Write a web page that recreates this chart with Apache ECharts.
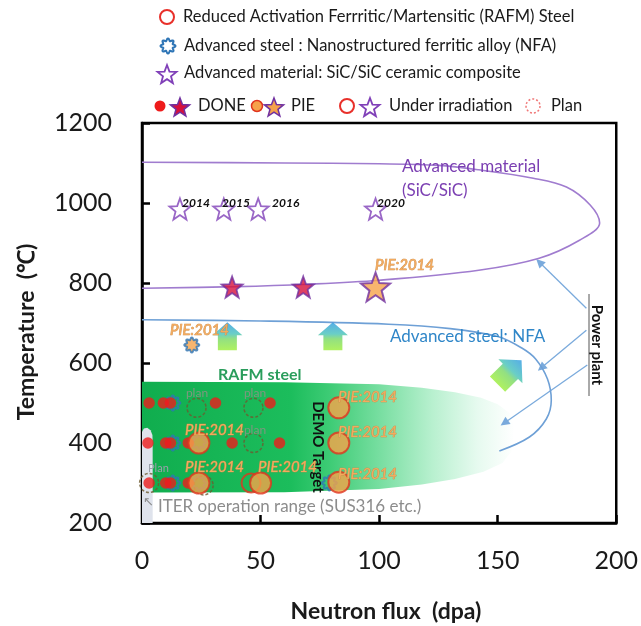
<!DOCTYPE html>
<html>
<head>
<meta charset="utf-8">
<script src="https://cdn.jsdelivr.net/npm/echarts@6/dist/echarts.min.js"></script>
<style>
  html, body { margin: 0; padding: 0; background: #ffffff; }
  #chart { width: 641px; height: 626px; }
</style>
</head>
<body>
<div id="chart"></div>
<script>
// ---- axes ----
const xRange = [0, 200];
const yRange = [200, 1200];

// ---- RAFM steel (dpa, °C) ----
const rafmDone = [[3, 500], [9, 500], [12, 500], [31, 500], [54, 500],
                  [2.5, 400], [10, 400], [12, 400], [19.5, 400], [38, 400], [58, 400],
                  [3, 300], [10, 300], [12, 300], [19.5, 300]];
const rafmPIE = [[24, 400], [24, 300], [50, 300], [83, 488], [83, 400], [83, 302]];
const rafmUnder = [[46, 300]];
const rafmPlan = [[23, 488], [47, 488], [47, 400], [3, 300], [26, 294]];

// ---- Advanced steel: NFA ----
const nfaUnder = [[13, 500], [13, 400], [13, 300], [24, 402], [24, 300], [79, 300]];
const nfaPIE = [[21, 645]];

// ---- Advanced material: SiC/SiC ----
const sicUnder = [[16, 985], [34.5, 985], [49, 985], [98.5, 985]];
const sicYears = ['2014', '2015', '2016', '2020'];
const sicDone = [[38, 790], [68, 790]];
const sicPIE = [[98.5, 790]];

// ---- operating windows ----
const sicWindow = [[0, 1102], [60, 1100], [100, 1098], [125, 1094], [142, 1083], [165, 1062], [179, 1040],
                   [189, 995], [193, 950], [184.5, 907], [167.5, 862], [142, 832], [100, 807],
                   [70, 797], [40, 791], [0, 787]];
const nfaWindow = [[0, 708], [50, 705], [104, 697], [130, 686], [150, 666], [160, 638], [166, 610],
                   [171, 560], [172.6, 507], [170.5, 460], [163.4, 415], [150.7, 380]];
const rafmWindow = [[0, 553], [60, 552], [100, 547], [118, 538], [132, 527], [143, 513], [150, 497],
                    [155, 475], [157, 440], [156, 380], [152, 350], [144, 328], [132, 310],
                    [118, 296], [100, 285], [60, 277], [0, 276]];
const iterWindow = [[0, 200], [0, 428], [0.8, 436], [2.2, 438], [3.6, 432], [4.4, 420], [4.5, 400], [4.5, 200]];

// ---- development direction arrows ----
const upArrows = [[36, 667], [80.5, 667]];
const diagArrow = [[155, 577]];
const powerPlantLinks = [
  [[187.4, 737], [167.6, 852]],
  [[187.4, 682], [168.4, 588]],
  [[187.8, 595], [152.8, 450]]
];

// ---- symbol shapes (unit box 0..100) ----
function starPoints() {
  const pts = [];
  for (let i = 0; i < 10; i++) {
    const r = i % 2 === 0 ? 50 : 21;
    const a = -Math.PI / 2 + i * Math.PI / 5;
    pts.push([50 + r * Math.cos(a), 50 + r * Math.sin(a)]);
  }
  return pts;
}
function flowerPoints() {
  const pts = [];
  const n = 96;
  for (let i = 0; i < n; i++) {
    const t = i / n * Math.PI * 2;
    const r = 42 + 8 * Math.cos(8 * t);
    pts.push([50 + r * Math.cos(t), 50 + r * Math.sin(t)]);
  }
  return pts;
}
function toPath(pts) {
  return 'path://M' + pts.map(p => p[0].toFixed(2) + ',' + p[1].toFixed(2)).join('L') + 'Z';
}
const STAR_PTS = starPoints();
const FLOWER_PTS = flowerPoints();
const STAR = toPath(STAR_PTS);
const FLOWER = toPath(FLOWER_PTS);
const BLOCK_ARROW = 'path://M15,0 L30,13 L24.5,13 L24.5,28 L5.5,28 L5.5,13 L0,13 Z';

const RED = '#ee1b1b';
const ORANGE = '#f6a24a';
const PURPLE = '#7030a0';
const BLUE = '#2e75b6';
const FONT = 'Lato, "Liberation Sans", sans-serif';

const arrowGradient = new echarts.graphic.LinearGradient(0, 0, 0, 1, [
  { offset: 0, color: '#2b98e2' },
  { offset: 0.42, color: '#45c2b8' },
  { offset: 0.6, color: '#78d862' },
  { offset: 1, color: '#9bee38' }
]);

function polygonSeries(points, fill, z) {
  return {
    type: 'custom',
    silent: true,
    clip: true,
    z: z,
    data: [[0, 200]],
    encode: { x: 0, y: 1 },
    renderItem: function (params, api) {
      return {
        type: 'polygon',
        shape: { points: points.map(p => api.coord(p)) },
        style: { fill: fill }
      };
    }
  };
}

const chart = echarts.init(document.getElementById('chart'), null, { renderer: 'canvas' });

const option = {
  animation: false,
  backgroundColor: '#ffffff',
  grid: { left: 142, right: 24, top: 123, bottom: 103, show: true, borderColor: '#000', borderWidth: 2.5 },
  xAxis: {
    type: 'value', min: xRange[0], max: xRange[1], interval: 50,
    axisLine: { lineStyle: { color: '#000', width: 2.5 } },
    axisTick: { inside: true, length: 8, lineStyle: { color: '#000', width: 2.5 } },
    axisLabel: { color: '#1a1a1a', fontSize: 25, fontFamily: FONT, margin: 25, formatter: v => String(v) },
    splitLine: { show: false }
  },
  yAxis: {
    type: 'value', min: yRange[0], max: yRange[1], interval: 200,
    axisLine: { lineStyle: { color: '#000', width: 2.5 } },
    axisTick: { inside: true, length: 8, lineStyle: { color: '#000', width: 2.5 } },
    axisLabel: { color: '#1a1a1a', fontSize: 25, fontFamily: FONT, margin: 30, formatter: v => String(v) },
    splitLine: { show: false }
  },
  series: [
    polygonSeries(rafmWindow, new echarts.graphic.LinearGradient(0, 0, 1, 0, [
      { offset: 0, color: '#10ad4e' },
      { offset: 0.4, color: '#1cbd5c' },
      { offset: 0.5, color: '#3ccb74' },
      { offset: 0.63, color: '#74dd9e' },
      { offset: 0.78, color: '#b8f0cf' },
      { offset: 0.9, color: '#e6faef' },
      { offset: 1, color: '#ffffff' }
    ]), 1),
    polygonSeries(iterWindow, '#dfe3ec', 2),
    {
      type: 'line', data: sicWindow, smooth: 0.35, symbol: 'none', z: 3, silent: true,
      lineStyle: { color: '#a07ccf', width: 1.6 }
    },
    {
      type: 'line', data: nfaWindow, smooth: 0.35, symbol: 'none', z: 3, silent: true,
      lineStyle: { color: '#6ea0d6', width: 1.6 }
    },
    {
      type: 'lines', coordinateSystem: 'cartesian2d', z: 3, silent: true,
      symbol: ['none', 'triangle'], symbolSize: [0, 9],
      lineStyle: { color: '#7aaadc', width: 1.3, opacity: 1 },
      data: powerPlantLinks.map(c => ({ coords: c }))
    },
    {
      type: 'scatter', data: upArrows, symbol: BLOCK_ARROW, symbolSize: [30, 28],
      symbolKeepAspect: false, z: 4, silent: true, itemStyle: { color: arrowGradient }
    },
    {
      type: 'scatter', data: diagArrow, symbol: BLOCK_ARROW, symbolSize: [34, 34],
      symbolRotate: -45, symbolKeepAspect: false, z: 4, silent: true, itemStyle: { color: arrowGradient }
    },
    {
      type: 'scatter', data: nfaUnder, symbol: FLOWER, symbolSize: 15, z: 5,
      itemStyle: { color: 'rgba(255,255,255,0)', borderColor: BLUE, borderWidth: 2 }
    },
    {
      type: 'scatter', data: rafmPlan, symbol: 'circle', symbolSize: 19, z: 5,
      itemStyle: { color: 'rgba(0,0,0,0)', borderColor: '#6e5a2e', borderWidth: 1.5, borderType: [3, 2] }
    },
    {
      type: 'scatter', data: rafmDone, symbol: 'circle', symbolSize: 11.5, z: 6,
      itemStyle: { color: RED }
    },
    {
      type: 'scatter', data: rafmUnder, symbol: 'circle', symbolSize: 19, z: 6,
      itemStyle: { color: 'rgba(0,0,0,0)', borderColor: '#e0341f', borderWidth: 2 }
    },
    {
      type: 'scatter', data: rafmPIE, symbol: 'circle', symbolSize: 21, z: 6,
      itemStyle: { color: ORANGE, borderColor: '#e0341f', borderWidth: 2 }
    },
    {
      type: 'scatter', data: nfaPIE, symbol: FLOWER, symbolSize: 15, z: 6,
      itemStyle: { color: ORANGE, borderColor: BLUE, borderWidth: 2 }
    },
    {
      type: 'scatter', data: sicUnder, symbol: STAR, symbolSize: 21, z: 6,
      itemStyle: { color: '#ffffff', borderColor: '#8040b8', borderWidth: 1.8 }
    },
    {
      type: 'scatter', data: sicDone, symbol: STAR, symbolSize: 21, z: 6,
      itemStyle: { color: '#d6103c', borderColor: PURPLE, borderWidth: 1.8 }
    },
    {
      type: 'scatter', data: sicPIE, symbol: STAR, symbolSize: 29, z: 6,
      itemStyle: { color: ORANGE, borderColor: PURPLE, borderWidth: 2 }
    }
  ]
};
chart.setOption(option);

// ---- annotations ----
function txt(text, x, y, font, fill, extra, rotation) {
  const el = {
    type: 'text', x: x, y: y, z: 50, silent: true,
    style: Object.assign({ text: text, font: font, fill: fill, align: 'left', verticalAlign: 'middle' }, extra || {})
  };
  if (rotation) el.rotation = rotation;
  return el;
}
function shape(pts, cx, cy, s, style) {
  const k = s / 100;
  return {
    type: 'polygon', z: 50, silent: true,
    shape: { points: pts.map(p => [cx + (p[0] - 50) * k, cy + (p[1] - 50) * k]) },
    style: style
  };
}
function ring(cx, cy, r, style) {
  return { type: 'circle', z: 50, silent: true, shape: { cx: cx, cy: cy, r: r }, style: style };
}

const LEG = '16.5px ' + FONT;
const pieStyle = { stroke: '#c98a46', lineWidth: 0.7 };
const PIE_FONT = 'italic 15px ' + FONT;
const PIE_FILL = '#f3aa5e';
const graphics = [
  // key
  ring(167, 17, 7, { fill: '#fff', stroke: '#e8302a', lineWidth: 2 }),
  txt('Reduced Activation Ferrritic/Martensitic (RAFM) Steel', 183, 17, LEG, '#1a1a1a'),
  shape(FLOWER_PTS, 168, 46, 15, { fill: '#fff', stroke: BLUE, lineWidth: 2 }),
  txt('Advanced steel : Nanostructured ferritic alloy (NFA)', 184, 46, LEG, '#1a1a1a'),
  shape(STAR_PTS, 167, 75, 20, { fill: '#fff', stroke: '#8040b8', lineWidth: 1.8 }),
  txt('Advanced material: SiC/SiC ceramic composite', 184, 73, LEG, '#1a1a1a'),
  ring(160, 106, 5.5, { fill: RED }),
  shape(STAR_PTS, 180, 108, 20, { fill: '#d6103c', stroke: PURPLE, lineWidth: 1.5 }),
  txt('DONE', 198, 106, LEG, '#1a1a1a'),
  ring(257, 106, 5.5, { fill: ORANGE, stroke: '#e0341f', lineWidth: 1.5 }),
  shape(STAR_PTS, 274, 108, 20, { fill: ORANGE, stroke: PURPLE, lineWidth: 1.5 }),
  txt('PIE', 291, 106, LEG, '#1a1a1a'),
  ring(347, 106, 7, { fill: '#fff', stroke: '#e8302a', lineWidth: 2 }),
  shape(STAR_PTS, 370, 108, 20, { fill: '#fff', stroke: '#8040b8', lineWidth: 1.8 }),
  txt('Under irradiation', 389, 106, LEG, '#1a1a1a'),
  ring(533, 106, 7, { fill: '#fff', stroke: '#f07878', lineWidth: 1.5, lineDash: [2, 2] }),
  txt('Plan', 551, 106, LEG, '#1a1a1a'),

  // axis titles
  txt('Temperature  (℃)', 27, 332, 'bold 23px ' + FONT, '#1a1a1a', { align: 'center' }, Math.PI / 2),
  txt('Neutron flux  (dpa)', 386, 612, 'bold 23px ' + FONT, '#1a1a1a', { align: 'center' }),

  // window labels
  txt('Advanced material', 402, 167, '17px ' + FONT, '#7b3fb2'),
  txt('(SiC/SiC)', 402, 191, '17px ' + FONT, '#7b3fb2'),
  txt('Advanced steel: NFA', 390, 337, '17px ' + FONT, '#2f86c8'),
  txt('RAFM steel', 218, 375, 'bold 16px ' + FONT, '#2a9d5c'),
  txt('ITER operation range (SUS316 etc.)', 158, 507, '17px ' + FONT, '#8c8c8c'),
  txt('↖', 143, 503, '13px "DejaVu Sans"', '#8c8c8c'),
  txt('DEMO Target', 318, 447, 'bold 15px ' + FONT, '#111', { align: 'center' }, -Math.PI / 2),
  txt('Power plant', 597, 345, 'bold 15px ' + FONT, '#111', { align: 'center' }, -Math.PI / 2),
  { type: 'line', z: 50, silent: true, shape: { x1: 589, y1: 294, x2: 589, y2: 396 }, style: { stroke: '#555', lineWidth: 1 } },

  // irradiation years
  txt(sicYears[0], 182, 203, 'italic bold 12px ' + FONT, '#111'),
  txt(sicYears[1], 222, 203, 'italic bold 12px ' + FONT, '#111'),
  txt(sicYears[2], 272, 203, 'italic bold 12px ' + FONT, '#111'),
  txt(sicYears[3], 377, 203, 'italic bold 12px ' + FONT, '#111'),

  // post-irradiation examination labels
  txt('PIE:2014', 170, 330, PIE_FONT, PIE_FILL, pieStyle),
  txt('PIE:2014', 375, 265, PIE_FONT, PIE_FILL, pieStyle),
  txt('PIE:2014', 185, 430, PIE_FONT, PIE_FILL, pieStyle),
  txt('PIE:2014', 185, 467, PIE_FONT, PIE_FILL, pieStyle),
  txt('PIE:2014', 258, 467, PIE_FONT, PIE_FILL, pieStyle),
  txt('PIE:2014', 338, 397, PIE_FONT, PIE_FILL, pieStyle),
  txt('PIE:2014', 338, 432, PIE_FONT, PIE_FILL, pieStyle),
  txt('PIE:2014', 338, 474, PIE_FONT, PIE_FILL, pieStyle),

  // plan labels
  txt('plan', 197, 393, '12px ' + FONT, '#7f977f', { align: 'center' }),
  txt('plan', 255, 393, '12px ' + FONT, '#7f977f', { align: 'center' }),
  txt('plan', 255, 430, '12px ' + FONT, '#7f977f', { align: 'center' }),
  txt('Plan', 148, 468, '11px ' + FONT, '#9aa0aa')
];
chart.setOption({ graphic: graphics });
</script>
</body>
</html>
